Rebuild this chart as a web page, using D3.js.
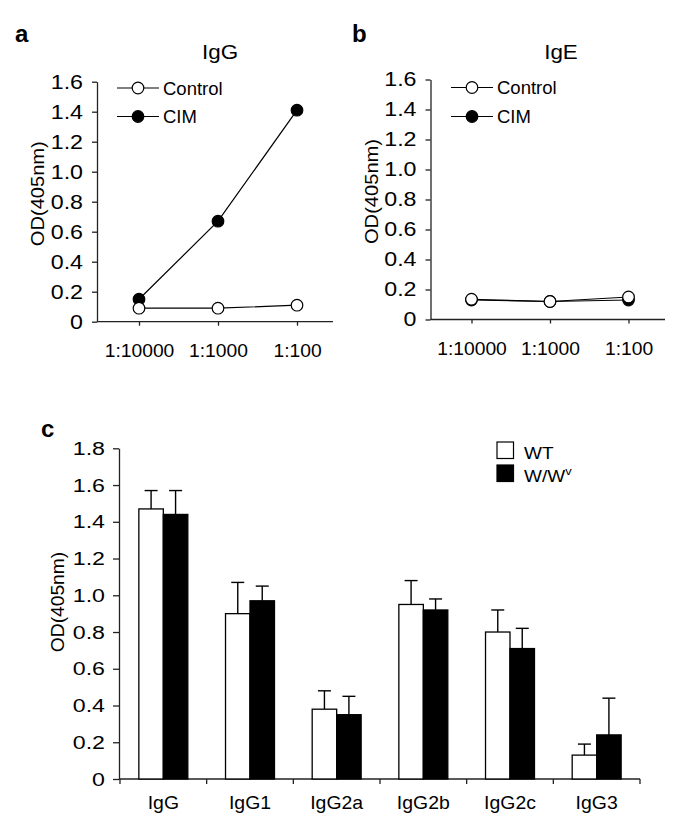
<!DOCTYPE html>
<html>
<head>
<meta charset="utf-8">
<script src="https://cdn.jsdelivr.net/npm/d3@7/dist/d3.min.js"></script>
<style>
  html, body { margin: 0; padding: 0; background: #fff; }
  svg { display: block; }
  text { font-family: "Liberation Sans", Arial, Helvetica, sans-serif; fill: #000; }
</style>
</head>
<body>
<svg id="chart" width="685" height="835"></svg>
<script>
// ---------------- data ----------------
const dilutions = ["1:10000", "1:1000", "1:100"];
const iggControl = [0.09, 0.09, 0.11];
const iggCIM = [0.15, 0.67, 1.41];
const igeControl = [0.135, 0.12, 0.15];
const igeCIM = [0.13, 0.12, 0.13];
const lineYTicks = [0, 0.2, 0.4, 0.6, 0.8, 1.0, 1.2, 1.4, 1.6];
const lineSeriesNames = ["Control", "CIM"];

const isotypes = ["IgG", "IgG1", "IgG2a", "IgG2b", "IgG2c", "IgG3"];
const wtMean = [1.47, 0.90, 0.38, 0.95, 0.80, 0.13];
const wtErr = [0.10, 0.17, 0.10, 0.13, 0.12, 0.06];
const wwvMean = [1.44, 0.97, 0.35, 0.92, 0.71, 0.24];
const wwvErr = [0.13, 0.08, 0.10, 0.06, 0.11, 0.20];
const barGroups = ["WT", "W/Wv"];
const barYTicks = [0, 0.2, 0.4, 0.6, 0.8, 1.0, 1.2, 1.4, 1.6, 1.8];

// ---------------- helpers ----------------
const svg = d3.select("#chart");
const AX = "#222";
const fmt = d => d === 0 ? "0" : d3.format(".1f")(d);

function stretchText(sel, sx) {
  sel.each(function () {
    const t = d3.select(this);
    const x = +t.attr("x") || 0;
    t.attr("x", 0).attr("transform", `translate(${x},0) scale(${sx},1)`);
  });
}

// ---------------- panels a & b ----------------
function linePanel(L) {
  const g = svg.append("g");
  const x = d3.scalePoint().domain(dilutions).range(L.pts);
  const y = d3.scaleLinear().domain([0, 1.6]).range(L.yr);

  g.append("text").attr("x", L.letterX).attr("y", 42)
    .attr("font-size", 24).attr("font-weight", "bold").text(L.letter);
  g.append("text").attr("text-anchor", "middle")
    .attr("transform", `translate(${L.titleX},59) scale(1.15,1)`)
    .attr("font-size", 19.5).text(L.title);

  // y axis
  const ya = g.append("g").attr("transform", `translate(${L.ax},0)`)
    .call(d3.axisLeft(y).tickValues(lineYTicks).tickFormat(fmt).tickSize(5).tickSizeOuter(0).tickPadding(9));
  ya.select(".domain").attr("stroke", AX).attr("stroke-width", 1.3);
  ya.selectAll(".tick line").attr("stroke", AX).attr("stroke-width", 1.3);
  ya.selectAll(".tick text").attr("font-size", 20).attr("font-family", "Liberation Sans, Arial, sans-serif").attr("fill", "#000")
    .call(stretchText, 1.16);

  // x axis
  const xa = g.append("g").attr("transform", `translate(0,${L.yr[0]})`)
    .call(d3.axisBottom(x).tickSize(4).tickPadding(19));
  xa.select(".domain").remove();
  xa.append("line").attr("x1", L.ax).attr("x2", L.axEnd).attr("y1", 0).attr("y2", 0)
    .attr("stroke", AX).attr("stroke-width", 1.3);
  xa.selectAll(".tick line").attr("stroke", AX).attr("stroke-width", 1.3);
  xa.selectAll(".tick text").attr("font-size", 18).attr("font-family", "Liberation Sans, Arial, sans-serif").attr("fill", "#000")
    .attr("dy", "0.71em").call(stretchText, 1.07);

  // y title
  g.append("text").attr("text-anchor", "middle")
    .attr("transform", `translate(${L.ax - 53},${(L.yr[0] + L.yr[1]) / 2 - 8}) rotate(-90) scale(1.15,1)`)
    .attr("font-size", 17.5).text("OD(405nm)");

  // lines: CIM first, then Control on top
  const series = [
    { name: "CIM", vals: L.cim, fill: "#000" },
    { name: "Control", vals: L.control, fill: "#fff" }
  ];
  const line = d3.line().x((d, i) => x(dilutions[i])).y(d => y(d));
  series.forEach(s => {
    g.append("path").attr("d", line(s.vals)).attr("fill", "none")
      .attr("stroke", "#000").attr("stroke-width", 1.2);
    g.selectAll(null).data(s.vals).enter().append("circle")
      .attr("cx", (d, i) => x(dilutions[i])).attr("cy", d => y(d)).attr("r", 5.8)
      .attr("fill", s.fill).attr("stroke", "#000").attr("stroke-width", 1.2);
  });

  // legend
  lineSeriesNames.forEach((name, i) => {
    const ly = L.legY[i];
    g.append("line").attr("x1", L.legX).attr("x2", L.legX + 42).attr("y1", ly).attr("y2", ly)
      .attr("stroke", "#000").attr("stroke-width", 1.2);
    g.append("circle").attr("cx", L.legX + 21).attr("cy", ly).attr("r", 5.8)
      .attr("fill", name === "CIM" ? "#000" : "#fff").attr("stroke", "#000").attr("stroke-width", 1.2);
    g.append("text").attr("x", L.legX + 46).attr("y", ly + 6.5).attr("font-size", 18.5).text(name);
  });
}

linePanel({
  letter: "a", letterX: 15, title: "IgG", titleX: 220,
  ax: 97, axEnd: 333, pts: [139, 297], yr: [321.7, 81.7],
  control: iggControl, cim: iggCIM, legX: 117, legY: [88, 116.5]
});
linePanel({
  letter: "b", letterX: 352, title: "IgE", titleX: 561,
  ax: 430.5, axEnd: 665, pts: [471.5, 628.5], yr: [319.5, 79.5],
  control: igeControl, cim: igeCIM, legX: 451, legY: [87.5, 116.5]
});

// ---------------- panel c ----------------
(function () {
  const g = svg.append("g");
  const x = d3.scaleBand().domain(isotypes).range([120, 640]).paddingInner(0).paddingOuter(0);
  const xs = d3.scaleBand().domain(barGroups).range([0, x.bandwidth()]).paddingInner(0).paddingOuter(0.77);
  const y = d3.scaleLinear().domain([0, 1.8]).range([779, 448.3]);

  g.append("text").attr("x", 41).attr("y", 437).attr("font-size", 24).attr("font-weight", "bold").text("c");

  // y axis
  const ya = g.append("g").attr("transform", `translate(119,0)`)
    .call(d3.axisLeft(y).tickValues(barYTicks).tickFormat(fmt).tickSize(6).tickSizeOuter(0).tickPadding(8));
  ya.select(".domain").attr("stroke", AX).attr("stroke-width", 1.3);
  ya.selectAll(".tick line").attr("stroke", AX).attr("stroke-width", 1.3);
  ya.selectAll(".tick text").attr("font-size", 19).attr("font-family", "Liberation Sans, Arial, sans-serif").attr("fill", "#000")
    .call(stretchText, 1.22);

  g.append("text").attr("text-anchor", "middle")
    .attr("transform", `translate(64,602) rotate(-90) scale(1.1,1)`)
    .attr("font-size", 17.5).text("OD(405nm)");

  // x axis
  const xa = g.append("g").attr("transform", `translate(0,779)`);
  xa.append("line").attr("x1", 119).attr("x2", 640).attr("stroke", AX).attr("stroke-width", 1.3);
  const bounds = isotypes.map(c => x(c)).concat([x.range()[1]]);
  xa.selectAll(null).data(bounds).enter().append("line")
    .attr("x1", d => d).attr("x2", d => d).attr("y1", 0).attr("y2", 5)
    .attr("stroke", AX).attr("stroke-width", 1.3);
  xa.selectAll(null).data(isotypes).enter().append("text")
    .attr("text-anchor", "middle")
    .attr("transform", d => `translate(${x(d) + x.bandwidth() / 2},30) scale(1.08,1)`)
    .attr("font-size", 18).text(d => d);

  // bars
  const rows = [];
  isotypes.forEach((c, i) => {
    rows.push({ c, grp: "WT", v: wtMean[i], e: wtErr[i] });
    rows.push({ c, grp: "W/Wv", v: wwvMean[i], e: wwvErr[i] });
  });
  const bw = xs.bandwidth();
  rows.forEach(r => {
    const cx = x(r.c) + xs(r.grp) + bw / 2;
    g.append("line").attr("x1", cx).attr("x2", cx).attr("y1", y(r.v)).attr("y2", y(r.v + r.e))
      .attr("stroke", "#000").attr("stroke-width", 1.4);
    g.append("line").attr("x1", cx - 6.5).attr("x2", cx + 6.5).attr("y1", y(r.v + r.e)).attr("y2", y(r.v + r.e))
      .attr("stroke", "#000").attr("stroke-width", 1.4);
  });
  g.selectAll(null).data(rows).enter().append("rect")
    .attr("x", d => x(d.c) + xs(d.grp)).attr("width", bw)
    .attr("y", d => y(d.v)).attr("height", d => y(0) - y(d.v))
    .attr("fill", d => d.grp === "WT" ? "#fff" : "#000")
    .attr("stroke", "#000").attr("stroke-width", 1.3);

  // legend
  const leg = [{ k: "WT", y: 442 }, { k: "W/Wv", y: 465 }];
  leg.forEach(l => {
    g.append("rect").attr("x", 497).attr("y", l.y).attr("width", 16.5).attr("height", 16.5)
      .attr("fill", l.k === "WT" ? "#fff" : "#000").attr("stroke", "#000").attr("stroke-width", 1.2);
    const t = g.append("text").attr("transform", `translate(524,${l.y + 16.5}) scale(1.12,1)`).attr("font-size", 17);
    if (l.k === "WT") t.text("WT");
    else {
      t.append("tspan").text("W/W");
      t.append("tspan").attr("font-size", 11.5).attr("dy", -6.5).text("v");
    }
  });
})();
</script>
</body>
</html>
